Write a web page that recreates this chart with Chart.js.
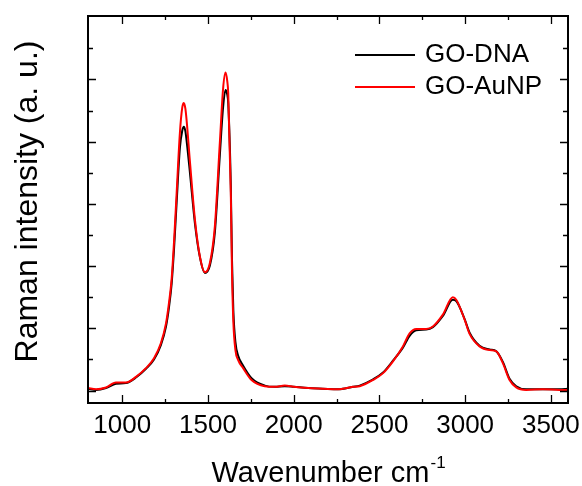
<!DOCTYPE html>
<html>
<head>
<meta charset="UTF-8">
<title>Raman spectra</title>
<style>
    html, body { margin: 0; padding: 0; background: #fff; }
</style>
<script src="https://cdn.jsdelivr.net/npm/chart.js"></script>
</head>
<body>
<canvas id="raman" width="582" height="486"></canvas>
<script>
// values (intensity in arbitrary units)
const wavenumbers = [800, 847, 905, 963, 1021, 1080, 1138, 1185, 1225, 1255, 1272, 1288, 1302, 1317, 1336, 1350, 1359, 1368, 1375, 1394, 1424,
    1453, 1482, 1511, 1540, 1569, 1588, 1602, 1612, 1618, 1633, 1640, 1648, 1660, 1676, 1705, 1754, 1831, 1890, 1948, 2000,
    2084, 2170, 2259, 2346, 2385, 2463, 2521, 2579, 2637, 2676, 2715, 2773, 2812, 2870, 2928, 2948, 2997, 3026, 3084, 3143,
    3182, 3220, 3259, 3298, 3356, 3453, 3551, 3600];
const goDna = [0.03, 0.01, 0.04, 0.11, 0.12, 0.21, 0.35, 0.50, 0.73, 1.03, 1.33, 1.72, 2.28, 3.02, 3.90, 4.18, 4.24, 4.17, 4.02, 3.52, 2.68,
    2.14, 1.89, 2.01, 2.54, 3.78, 4.55, 4.83, 4.76, 4.62, 3.30, 2.10, 1.28, 0.78, 0.56, 0.40, 0.20, 0.08, 0.06, 0.07, 0.06,
    0.04, 0.03, 0.02, 0.06, 0.08, 0.18, 0.29, 0.48, 0.69, 0.88, 0.97, 0.98, 1.02, 1.20, 1.46, 1.44, 1.15, 0.93, 0.72, 0.66,
    0.63, 0.46, 0.19, 0.07, 0.02, 0.02, 0.02, 0.03];
const goAunp = [0.04, 0.02, 0.05, 0.13, 0.13, 0.22, 0.36, 0.52, 0.76, 1.08, 1.40, 1.80, 2.40, 3.17, 4.14, 4.55, 4.62, 4.53, 4.35, 3.70, 2.74,
    2.15, 1.90, 2.05, 2.64, 3.98, 4.85, 5.11, 4.98, 4.78, 3.18, 1.90, 1.10, 0.65, 0.49, 0.36, 0.17, 0.07, 0.06, 0.08, 0.06,
    0.04, 0.03, 0.02, 0.06, 0.07, 0.17, 0.28, 0.47, 0.71, 0.92, 0.99, 0.99, 1.03, 1.22, 1.50, 1.46, 1.14, 0.91, 0.71, 0.65,
    0.63, 0.44, 0.17, 0.05, 0.01, 0.02, 0.01, 0.01];

const seriesNames = ['GO-DNA', 'GO-AuNP'];
const seriesColors = ['#000000', '#ff0000'];

const xMajorTicks = [1000, 1500, 2000, 2500, 3000, 3500];
const xMinorTicks = [1250, 1750, 2250, 2750, 3250];
const yMajorTicks = [0, 1, 2, 3, 4, 5];
const yMinorTicks = [0.5, 1.5, 2.5, 3.5, 4.5, 5.5];

const FONT = '"Liberation Sans", Arial, Helvetica, sans-serif';

function toPoints(values) {
    return wavenumbers.map((w, i) => ({ x: w, y: values[i] }));
}

// frame, inward ticks, labels, titles and legend
const framePlugin = {
    id: 'frame',
    afterDraw(chart) {
        const ctx = chart.ctx;
        const a = chart.chartArea;
        const xs = chart.scales.x;
        const ys = chart.scales.y;
        ctx.save();
        ctx.strokeStyle = '#000';
        ctx.lineWidth = 2;
        ctx.strokeRect(a.left, a.top, a.right - a.left, a.bottom - a.top);

        ctx.lineWidth = 1.3;
        ctx.beginPath();
        const xTick = (v, len) => {
            const px = Math.round(xs.getPixelForValue(v)) + 0.5;
            ctx.moveTo(px, a.bottom); ctx.lineTo(px, a.bottom - len);
            ctx.moveTo(px, a.top); ctx.lineTo(px, a.top + len);
        };
        const yTick = (v, len) => {
            const py = Math.round(ys.getPixelForValue(v)) + 0.5;
            ctx.moveTo(a.left, py); ctx.lineTo(a.left + len, py);
            ctx.moveTo(a.right, py); ctx.lineTo(a.right - len, py);
        };
        xMajorTicks.forEach(v => xTick(v, 8));
        xMinorTicks.forEach(v => xTick(v, 4));
        yMajorTicks.forEach(v => yTick(v, 8));
        yMinorTicks.forEach(v => yTick(v, 5));
        ctx.stroke();

        ctx.fillStyle = '#000';
        ctx.font = '26px ' + FONT;
        ctx.textAlign = 'center';
        ctx.textBaseline = 'alphabetic';
        xMajorTicks.forEach(v => {
            ctx.fillText(String(v), xs.getPixelForValue(v), 433);
        });

        // x title with superscript
        const main = 'Wavenumber cm';
        const sup = '-1';
        ctx.font = '29px ' + FONT;
        const wMain = ctx.measureText(main).width;
        ctx.font = '17px ' + FONT;
        const wSup = ctx.measureText(sup).width;
        const x0 = (a.left + a.right) / 2 - (wMain + wSup) / 2;
        ctx.textAlign = 'left';
        ctx.font = '29px ' + FONT;
        ctx.fillText(main, x0, 482);
        ctx.font = '17px ' + FONT;
        ctx.fillText(sup, x0 + wMain + 1, 468);

        // y title
        ctx.save();
        ctx.translate(37, (a.top + a.bottom) / 2 - 8);
        ctx.rotate(-Math.PI / 2);
        ctx.textAlign = 'center';
        ctx.font = '32px ' + FONT;
        ctx.fillText('Raman intensity (a. u.)', 0, 0);
        ctx.restore();

        // legend
        ctx.font = '26px ' + FONT;
        ctx.textBaseline = 'middle';
        ctx.textAlign = 'left';
        chart.data.datasets.forEach((ds, i) => {
            const y = 55 + i * 32;
            ctx.strokeStyle = ds.borderColor;
            ctx.lineWidth = 2;
            ctx.beginPath();
            ctx.moveTo(355, y); ctx.lineTo(415, y);
            ctx.stroke();
            ctx.fillStyle = '#000';
            ctx.fillText(ds.label, 425, y);
        });
        ctx.restore();
    }
};

new Chart(document.getElementById('raman').getContext('2d'), {
    type: 'line',
    data: {
        datasets: [
            {
                label: seriesNames[0],
                data: toPoints(goDna),
                borderColor: seriesColors[0],
                borderWidth: 2,
                pointRadius: 0,
                cubicInterpolationMode: 'monotone',
                fill: false,
                order: 1
            },
            {
                label: seriesNames[1],
                data: toPoints(goAunp),
                borderColor: seriesColors[1],
                borderWidth: 2,
                pointRadius: 0,
                cubicInterpolationMode: 'monotone',
                fill: false,
                order: 0
            }
        ]
    },
    options: {
        responsive: false,
        animation: false,
        events: [],
        layout: {
            padding: { left: 88, right: 14, top: 16, bottom: 83 }
        },
        plugins: {
            legend: { display: false },
            tooltip: { enabled: false }
        },
        scales: {
            x: { type: 'linear', min: 800, max: 3600, display: false },
            y: { type: 'linear', min: -0.2, max: 6.02, display: false }
        }
    },
    plugins: [framePlugin]
});
</script>
</body>
</html>
